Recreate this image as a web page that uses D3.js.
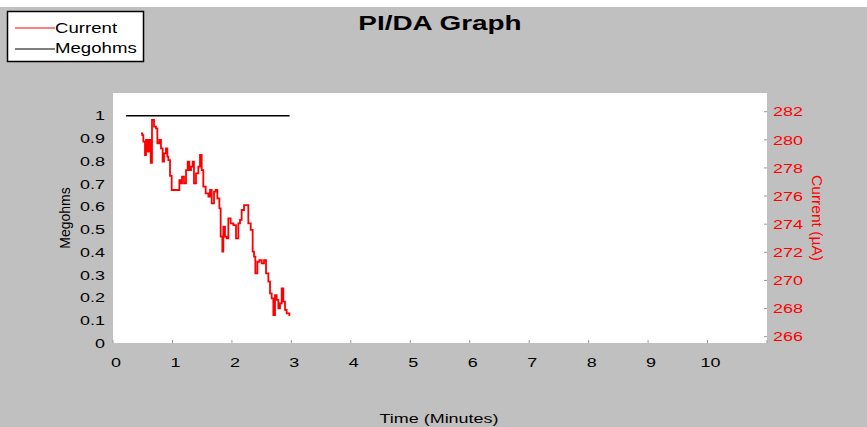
<!DOCTYPE html>
<html>
<head>
<meta charset="utf-8">
<script src="https://cdn.jsdelivr.net/npm/d3@7"></script>
<style>
  body { margin: 0; background: #fff; }
  text { font-family: "Liberation Sans", Arial, sans-serif; }
</style>
</head>
<body>
<div id="chart"></div>
<script>
// series
const megTime = [0.22, 2.97];
const megValues = [1, 1];

const curTime = [0.471, 0.493, 0.510, 0.538, 0.555, 0.583, 0.611, 0.634, 0.656, 0.690,
  0.723, 0.746, 0.779, 0.807, 0.835, 0.858, 0.891, 0.914, 0.931, 0.959,
  0.987, 1.099, 1.116, 1.138, 1.161, 1.194, 1.228, 1.256, 1.284, 1.312,
  1.340, 1.362, 1.396, 1.435, 1.463, 1.492, 1.519, 1.559, 1.604, 1.632,
  1.660, 1.699, 1.727, 1.755, 1.789, 1.811, 1.839, 1.856, 1.884, 1.912,
  1.940, 1.979, 2.024, 2.069, 2.108, 2.136, 2.164, 2.204, 2.248, 2.276,
  2.316, 2.349, 2.372, 2.394, 2.428, 2.461, 2.501, 2.540, 2.574, 2.613,
  2.641, 2.669, 2.697, 2.725, 2.753, 2.781, 2.809, 2.837, 2.865, 2.893,
  2.921, 2.966];
const curValues = [280.46, 280.34, 279.87, 278.92, 279.99, 279.16, 279.99, 278.37, 281.41, 280.94,
  280.82, 279.75, 279.99, 279.39, 278.45, 279.04, 279.39, 278.80, 278.56, 277.43,
  276.43, 276.43, 277.14, 276.91, 277.38, 276.91, 277.85, 278.45, 277.85, 278.09,
  278.45, 276.91, 277.62, 278.09, 278.92, 277.85, 276.67, 276.19, 275.96, 276.43,
  275.48, 276.31, 276.43, 275.84, 275.13, 273.11, 272.05, 273.82, 273.11, 272.99,
  274.42, 274.06, 273.94, 272.99, 274.06, 274.30, 275.01, 275.36, 275.36, 274.06,
  273.59, 272.05, 271.69, 270.50, 271.33, 271.45, 271.22, 271.45, 270.50, 269.91,
  269.08, 268.73, 267.54, 268.96, 268.61, 268.02, 268.37, 269.44, 268.49, 267.90,
  267.66, 267.47];

const xTicks = [0, 1, 2, 3, 4, 5, 6, 7, 8, 9, 10];
const leftTicks = [0, 0.1, 0.2, 0.3, 0.4, 0.5, 0.6, 0.7, 0.8, 0.9, 1];
const rightTicks = [266, 268, 270, 272, 274, 276, 278, 280, 282];

const width = 867, height = 427;
const plot = { left: 113, right: 767, top: 93, bottom: 343 };
const SX = 1.33; // picture is stretched sideways
const gray = "#c0c0c0";

const svg = d3.select("#chart").append("svg")
  .attr("width", width).attr("height", height);

svg.append("rect").attr("x", 0).attr("y", 7)
  .attr("width", width).attr("height", height - 7).attr("fill", gray);

svg.append("rect")
  .attr("x", plot.left).attr("y", plot.top)
  .attr("width", plot.right - plot.left).attr("height", plot.bottom - plot.top)
  .attr("fill", "#fff");

const x = d3.scaleLinear().domain([0, 11]).range([plot.left, plot.right]);
const yL = d3.scaleLinear().domain([0, 1.1]).range([plot.bottom, plot.top]);
const yR = d3.scaleLinear().domain([265.55, 283.33]).range([plot.bottom, plot.top]);

// stretched text helper
function label(g, tx, ty, str, opts) {
  opts = opts || {};
  const t = g.append("g")
    .attr("transform", `translate(${tx},${ty}) ${opts.rotate ? "rotate(" + opts.rotate + ")" : ""} scale(${opts.rotate ? 1 : SX},1)`)
    .append("text")
    .attr("text-anchor", opts.anchor || "start")
    .attr("font-size", opts.size || 13.5)
    .attr("font-weight", opts.bold ? "bold" : null)
    .attr("fill", opts.color || "#000")
    .text(str);
  if (opts.dy) t.attr("dy", opts.dy);
  if (opts.len) t.attr("textLength", opts.len).attr("lengthAdjust", "spacingAndGlyphs");
  return t;
}

// ticks (inside the white area, gray)
const tickG = svg.append("g").attr("stroke", "#999").attr("stroke-width", 1);
xTicks.concat([11]).forEach(d => {
  tickG.append("line").attr("x1", x(d)).attr("x2", x(d))
    .attr("y1", plot.bottom).attr("y2", plot.bottom - 3);
});
rightTicks.forEach(d => {
  tickG.append("line").attr("x1", plot.right - 3).attr("x2", plot.right)
    .attr("y1", yR(d)).attr("y2", yR(d));
});

// tick labels
xTicks.forEach(d => label(svg, x(d) + 3, 367, d, { anchor: "middle" }));
leftTicks.forEach(d => label(svg, 105, yL(d), d, { anchor: "end", dy: "0.35em" }));
rightTicks.forEach(d => label(svg, 773, yR(d), d, { color: "#ff0000", dy: "0.35em" }));

// axis titles
label(svg, 440, 30, "PI/DA Graph", { anchor: "middle", size: 21, bold: true });
label(svg, 439, 423, "Time (Minutes)", { anchor: "middle", size: 13.5 });
label(svg, 70, 218, "Megohms", { anchor: "middle", size: 14, rotate: -90 });
label(svg, 812, 218, "Current (µA)", { anchor: "middle", size: 14, rotate: 90, color: "#ff0000", len: 86 });

// series
const megLine = d3.line()
  .x((d, i) => x(megTime[i]))
  .y(d => yL(d));
svg.append("path").datum(megValues)
  .attr("d", megLine).attr("fill", "none")
  .attr("stroke", "#000").attr("stroke-width", 1.5);

const curLine = d3.line()
  .curve(d3.curveStepAfter)
  .x((d, i) => x(curTime[i]))
  .y(d => yR(d));
svg.append("path").datum(curValues)
  .attr("d", curLine).attr("fill", "none")
  .attr("stroke", "#ff0000").attr("stroke-width", 1.8);

// legend
const leg = svg.append("g");
leg.append("rect").attr("x", 7.5).attr("y", 11.5).attr("width", 136).attr("height", 50)
  .attr("fill", "#fff").attr("stroke", "#000").attr("stroke-width", 1.5);
const legItems = [["Current", "#ff0000", 28, 32.5], ["Megohms", "#000", 49, 52.5]];
legItems.forEach(([name, col, ly, ty]) => {
  leg.append("line").attr("x1", 15).attr("x2", 55).attr("y1", ly).attr("y2", ly)
    .attr("stroke", col).attr("stroke-width", 1.2);
  label(leg, 55, ty, name, { size: 14 });
});
</script>
</body>
</html>
